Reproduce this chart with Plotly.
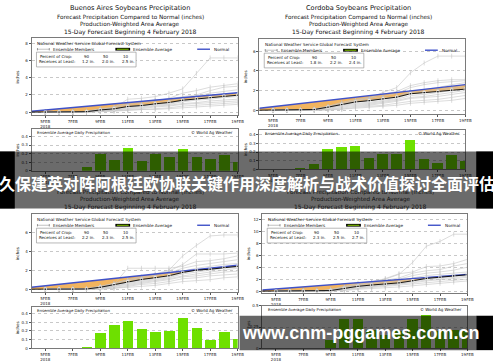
import plotly.graph_objects as go

W, H = 500, 362

# ---------------- data ----------------
line_days = list(range(4, 20))          # cumulative lines start 4 Feb
bar_days = list(range(5, 20))           # daily values 5..19 Feb
tick_days = [5, 7, 9, 11, 13, 15, 17, 19]
tick_labels = ["5FEB<br>2018", "7FEB", "9FEB", "11FEB", "13FEB", "15FEB", "17FEB", "19FEB"]

titles = ["Buenos Aires Soybeans Precipitation", "Cordoba Soybeans Precipitation", "", ""]
sub_lines = ["Forecast Precipitation Compared to Normal (inches)",
             "Production-Weighted Area Average",
             "15-Day Forecast Beginning 4 February 2018"]

pct_crop = ["90", "50", "10"]
pct_tl = ["1.2 in.", "2.0 in.", "2.5 in."]
pct_tr = ["1.8 in.", "2.2 in.", "2.4 in."]
pct_bl = ["2.2 in.", "2.3 in.", "2.5 in."]
pct_br = ["2.3 in.", "2.5 in.", "2.7 in."]

daily_tl = [0, 0, 0, 0.05, 0.20, 0.13, 0.27, 0.11, 0.20, 0.16, 0.26, 0.16, 0.14, 0.18, 0.10]
daily_tr = [0, 0, 0.01, 0.06, 0.24, 0.26, 0.27, 0.13, 0.18, 0.18, 0.34, 0.12, 0.08, 0.17, 0.10]
daily_bl = [0, 0, 0, 0.02, 0.18, 0.27, 0.32, 0.23, 0.19, 0.20, 0.35, 0.24, 0.10, 0.19, 0.11]
daily_br = [0, 0, 0, 0, 0.10, 0.35, 0.35, 0.22, 0.16, 0.20, 0.35, 0.39, 0.20, 0.22, 0.20]

avg_tl = [0, 0, 0, 0, 0.05, 0.25, 0.38, 0.65, 0.76, 0.96, 1.12, 1.38, 1.54, 1.68, 1.86, 1.96]
avg_tr = [0, 0, 0, 0.01, 0.07, 0.31, 0.57, 0.84, 0.97, 1.15, 1.33, 1.67, 1.79, 1.87, 2.04, 2.14]
avg_bl = [0, 0, 0, 0, 0.02, 0.20, 0.47, 0.79, 1.02, 1.21, 1.41, 1.76, 2.00, 2.10, 2.29, 2.40]
avg_br = [0, 0, 0, 0, 0, 0.10, 0.45, 0.80, 1.02, 1.18, 1.38, 1.73, 2.12, 2.32, 2.54, 2.74]

normal_tl = [0.10, 0.24, 0.39, 0.53, 0.67, 0.82, 0.96, 1.10, 1.25, 1.39, 1.53, 1.68, 1.82, 1.96, 2.11, 2.25]
normal_tr = [0.20, 0.36, 0.52, 0.68, 0.84, 1.00, 1.16, 1.32, 1.48, 1.64, 1.80, 1.96, 2.12, 2.28, 2.44, 2.60]
normal_bl = [0.20, 0.35, 0.51, 0.66, 0.82, 0.97, 1.13, 1.28, 1.44, 1.59, 1.75, 1.90, 2.06, 2.21, 2.37, 2.52]
normal_br = [0.20, 0.37, 0.55, 0.72, 0.89, 1.07, 1.24, 1.41, 1.59, 1.76, 1.93, 2.11, 2.28, 2.45, 2.63, 2.80]

members_tl = [
    [0, 0, 0, 0.10, 0.30, 0.50, 1.50, 1.60, 1.80, 2.20, 2.70, 4.50, 6.30, 6.30, 6.30],
    [0, 0, 0, 0.05, 0.30, 0.50, 0.90, 1.00, 1.30, 1.60, 2.20, 2.50, 2.90, 3.10, 3.30],
    [0, 0, 0, 0.10, 0.40, 0.60, 1.00, 1.20, 1.40, 1.50, 1.80, 2.00, 2.50, 2.90, 3.00],
    [0, 0, 0, 0, 0.20, 0.30, 0.60, 0.80, 1.00, 1.30, 1.60, 1.90, 2.20, 2.40, 2.60],
    [0, 0, 0, 0.05, 0.20, 0.40, 0.70, 0.80, 0.90, 1.00, 1.40, 1.60, 1.80, 2.10, 2.20],
    [0, 0, 0, 0.10, 0.30, 0.40, 0.60, 0.70, 0.90, 1.10, 1.30, 1.50, 1.70, 1.90, 2.00],
    [0, 0, 0, 0, 0.10, 0.20, 0.50, 0.60, 0.80, 0.90, 1.20, 1.40, 1.50, 1.70, 1.80],
    [0, 0, 0, 0, 0.10, 0.30, 0.40, 0.50, 0.70, 0.80, 1.00, 1.10, 1.30, 1.40, 1.50],
    [0, 0, 0, 0.05, 0.15, 0.20, 0.30, 0.40, 0.60, 0.70, 0.90, 1.00, 1.10, 1.20, 1.30],
    [0, 0, 0, 0, 0.10, 0.15, 0.20, 0.30, 0.40, 0.50, 0.70, 0.80, 0.90, 1.00, 1.10],
    [0, 0, 0, 0, 0.05, 0.10, 0.20, 0.30, 0.30, 0.40, 0.50, 0.60, 0.70, 0.80, 0.90],
]
members_tr = [
    [0, 0, 0, 0.10, 0.40, 0.70, 1.00, 1.20, 1.80, 2.30, 3.80, 4.80, 5.50, 5.50, 5.50],
    [0, 0, 0.05, 0.10, 0.40, 0.80, 1.10, 1.30, 1.60, 1.90, 2.50, 2.80, 3.00, 3.10, 3.10],
    [0, 0, 0, 0.10, 0.30, 0.60, 1.00, 1.20, 1.40, 1.70, 2.30, 2.60, 2.80, 2.90, 3.00],
    [0, 0, 0, 0.05, 0.30, 0.60, 0.90, 1.00, 1.20, 1.40, 1.90, 2.10, 2.30, 2.60, 2.80],
    [0, 0, 0, 0.10, 0.30, 0.50, 0.80, 1.00, 1.20, 1.30, 1.80, 1.90, 2.10, 2.30, 2.50],
    [0, 0, 0, 0.05, 0.20, 0.50, 0.70, 0.80, 1.00, 1.20, 1.70, 1.80, 1.90, 2.20, 2.30],
    [0, 0, 0, 0, 0.20, 0.40, 0.60, 0.70, 0.90, 1.10, 1.50, 1.60, 1.80, 2.00, 2.20],
    [0, 0, 0, 0, 0.10, 0.30, 0.50, 0.60, 0.80, 1.00, 1.30, 1.40, 1.60, 1.80, 2.00],
    [0, 0, 0, 0, 0.10, 0.20, 0.40, 0.50, 0.70, 0.90, 1.20, 1.30, 1.40, 1.60, 1.80],
    [0, 0, 0, 0, 0.05, 0.10, 0.30, 0.40, 0.50, 0.70, 0.90, 1.00, 1.10, 1.30, 1.50],
    [0, 0, 0, 0, 0, 0.10, 0.20, 0.30, 0.40, 0.50, 0.70, 0.80, 0.90, 1.00, 1.20],
]
members_bl = [
    [0, 0, 0, 0.05, 0.30, 0.60, 1.00, 1.30, 1.60, 2.00, 3.50, 4.60, 5.60, 5.70, 5.70],
    [0, 0, 0, 0.05, 0.30, 0.60, 1.00, 1.20, 1.50, 1.90, 2.60, 3.70, 3.70, 3.70, 3.80],
    [0, 0, 0, 0, 0.20, 0.50, 2.20, 2.20, 2.20, 2.20, 2.40, 2.90, 3.00, 3.20, 3.50],
    [0, 0, 0, 0.05, 0.20, 0.50, 0.90, 1.10, 1.40, 1.70, 2.20, 2.50, 2.70, 2.90, 3.10],
    [0, 0, 0, 0, 0.20, 0.40, 0.80, 1.00, 1.20, 1.50, 1.90, 2.20, 2.40, 2.60, 2.70],
    [0, 0, 0, 0, 0.10, 0.40, 0.70, 0.90, 1.10, 1.30, 1.70, 2.00, 2.10, 2.30, 2.50],
    [0, 0, 0, 0, 0.10, 0.30, 0.60, 0.80, 1.00, 1.20, 1.60, 1.80, 2.00, 2.20, 2.30],
    [0, 0, 0, 0, 0.10, 0.30, 0.50, 0.70, 0.90, 1.10, 1.40, 1.60, 1.80, 2.00, 2.20],
    [0, 0, 0, 0, 0.10, 0.20, 0.40, 0.60, 0.80, 1.00, 1.30, 1.40, 1.60, 1.80, 1.90],
    [0, 0, 0, 0, 0, 0.10, 0.30, 0.50, 0.60, 0.80, 1.10, 1.20, 1.40, 1.50, 1.60],
    [0, 0, 0, 0, 0, 0.10, 0.20, 0.30, 0.40, 0.60, 0.80, 0.90, 1.00, 1.20, 1.30],
]
members_br = [
    [0, 0, 0, 0, 0.30, 0.80, 1.30, 1.60, 2.00, 2.80, 4.80, 7.50, 8.30, 9.50, 9.50],
    [0, 0, 0, 0, 0.20, 0.70, 1.20, 1.50, 2.10, 2.90, 3.20, 4.10, 4.20, 4.60, 5.30],
    [0, 0, 0, 0, 0.20, 0.60, 1.10, 1.40, 1.80, 2.20, 3.00, 3.40, 3.60, 4.20, 4.60],
    [0, 0, 0, 0, 0.20, 0.60, 1.00, 1.30, 1.60, 2.00, 2.60, 3.00, 3.20, 3.50, 4.00],
    [0, 0, 0, 0, 0.10, 0.50, 0.90, 1.10, 1.40, 1.70, 2.20, 2.60, 2.80, 3.00, 3.20],
    [0, 0, 0, 0, 0.10, 0.40, 0.80, 1.00, 1.20, 1.50, 2.00, 2.30, 2.50, 2.70, 2.90],
    [0, 0, 0, 0, 0.10, 0.40, 0.70, 0.90, 1.10, 1.30, 1.80, 2.10, 2.30, 2.50, 2.70],
    [0, 0, 0, 0, 0.10, 0.30, 0.60, 0.80, 1.00, 1.20, 1.60, 1.90, 2.10, 2.30, 2.50],
    [0, 0, 0, 0, 0, 0.30, 0.50, 0.70, 0.90, 1.10, 1.40, 1.70, 1.90, 2.10, 2.30],
    [0, 0, 0, 0, 0, 0.20, 0.40, 0.50, 0.70, 0.90, 1.20, 1.40, 1.60, 1.80, 2.00],
    [0, 0, 0, 0, 0, 0.10, 0.30, 0.40, 0.50, 0.70, 0.90, 1.10, 1.30, 1.50, 1.70],
]

banner_text = "久保建英对阵阿根廷欧协联关键作用深度解析与战术价值探讨全面评估"
watermark_text = "www.cnm-pggames.com.cn"

# ---------------- layout (pixels) ----------------
panels = [
    dict(line=(32, 241, 36, 114), bar=(32, 241, 128, 170.5), tcx=132, ty=5,
         yr=[-0.35, 8.57], yt=[0, 2, 4, 6, 8], br=[0, 0.49], bt=[0, 0.1, 0.2, 0.3, 0.4],
         daily=daily_tl, avg=avg_tl, normal=normal_tl, members=members_tl, pct=pct_tl, title=titles[0]),
    dict(line=(263, 472, 37, 113), bar=(263, 472, 129, 169), tcx=364, ty=5,
         yr=[-0.4, 7.2], yt=[0, 2, 4, 6], br=[0, 0.46], bt=[0, 0.1, 0.2, 0.3, 0.4],
         daily=daily_tr, avg=avg_tr, normal=normal_tr, members=members_tr, pct=pct_tr, title=titles[1]),
    dict(line=(32, 241, 215, 294), bar=(32, 241, 309, 351), tcx=132, ty=183,
         yr=[-0.31, 7.86], yt=[0, 2, 4, 6], br=[0, 0.48], bt=[0, 0.1, 0.2, 0.3, 0.4],
         daily=daily_bl, avg=avg_bl, normal=normal_bl, members=members_bl, pct=pct_bl, title=titles[2]),
    dict(line=(266, 474, 215, 295), bar=(266, 474, 308, 351), tcx=366, ty=183,
         yr=[-0.33, 12.8], yt=[0, 2, 4, 6, 8, 10, 12], br=[0, 0.5], bt=[0, 0.25, 0.5],
         daily=daily_br, avg=avg_br, normal=normal_br, members=members_br, pct=pct_br, title=titles[3]),
]

FONT = "DejaVu Sans"
ORANGE = "#f2b45f"
BLUE = "#3f51c8"
GREEN = "#6ee000"


def X(px):
    return px / W


def Y(py):
    return 1 - py / H


fig = go.Figure()
annotations = []
shapes = []


def txt(x, y, s, size, anchor="left", color="#111", angle=0, family=FONT, bold=False):
    annotations.append(dict(
        x=X(x), y=Y(y), xref="paper", yref="paper", text=("<b>%s</b>" % s) if bold else s,
        showarrow=False, xanchor=anchor, yanchor="middle", textangle=angle, borderpad=0,
        font=dict(family=family, size=size, color=color)))


def rect(x0, y0, x1, y1, fill, line_color=None, lw=0, layer="above"):
    shapes.append(dict(type="rect", xref="paper", yref="paper",
                       x0=X(x0), x1=X(x1), y0=Y(y1), y1=Y(y0), fillcolor=fill,
                       line=dict(color=line_color or fill, width=lw), layer=layer))


def seg(x0, y0, x1, y1, color, lw):
    shapes.append(dict(type="line", xref="paper", yref="paper",
                       x0=X(x0), x1=X(x1), y0=Y(y0), y1=Y(y1),
                       line=dict(color=color, width=lw), layer="above"))


axis_common = dict(showline=True, mirror=True, linecolor="#7a7a7a", linewidth=0.8,
                   ticks="outside", ticklen=2, tickwidth=0.6, tickcolor="#555",
                   zeroline=False, tickfont=dict(family=FONT, size=4, color="#222"))

for i, p in enumerate(panels):
    la, ba = 2 * i + 1, 2 * i + 2
    xl, yl = ("x" if la == 1 else "x%d" % la), ("y" if la == 1 else "y%d" % la)
    xb, yb = "x%d" % ba, "y%d" % ba

    # fill between normal and ensemble average
    fig.add_trace(go.Scatter(x=line_days, y=p["normal"], mode="lines", line=dict(width=0),
                             xaxis=xl, yaxis=yl, hoverinfo="skip"))
    fig.add_trace(go.Scatter(x=line_days, y=p["avg"], mode="lines", line=dict(width=0),
                             fill="tonexty", fillcolor=ORANGE, xaxis=xl, yaxis=yl, hoverinfo="skip"))
    for m in p["members"]:
        fig.add_trace(go.Scatter(x=bar_days, y=m, mode="lines+markers",
                                 line=dict(color="#c4c4c4", width=0.6),
                                 marker=dict(symbol="line-ns-open", size=3.5,
                                             line=dict(width=0.6, color="#707070")),
                                 xaxis=xl, yaxis=yl))
    fig.add_trace(go.Scatter(x=line_days, y=p["normal"], mode="lines",
                             line=dict(color=BLUE, width=1.4), xaxis=xl, yaxis=yl))
    fig.add_trace(go.Scatter(x=line_days, y=p["avg"], mode="lines+markers",
                             line=dict(color="#000", width=0.9),
                             marker=dict(symbol="square", color="#000",
                                         size=[0] + [2.4] * len(bar_days)),
                             xaxis=xl, yaxis=yl))
    fig.add_trace(go.Bar(x=bar_days, y=p["daily"], marker=dict(color=GREEN, line=dict(width=0)),
                         width=0.76, xaxis=xb, yaxis=yb))

    lx0, lx1, ly0, ly1 = p["line"]
    bx0, bx1, by0, by1 = p["bar"]
    fig.layout["xaxis%d" % la] = dict(axis_common, domain=[X(lx0), X(lx1)], range=[4, 19], anchor=yl,
                                     tickvals=tick_days, ticktext=tick_labels, showgrid=False)
    fig.layout["yaxis%d" % la] = dict(axis_common, domain=[Y(ly1), Y(ly0)], range=p["yr"], anchor=xl,
                                     tickvals=p["yt"], showgrid=True, gridcolor="#c8c8c8",
                                     griddash="dot", gridwidth=0.6)
    fig.layout["xaxis%d" % ba] = dict(axis_common, domain=[X(bx0), X(bx1)], range=[4, 19], anchor=yb,
                                     tickvals=tick_days, ticktext=tick_labels, showgrid=False)
    fig.layout["yaxis%d" % ba] = dict(axis_common, domain=[Y(by1), Y(by0)], range=p["br"], anchor=xb,
                                     tickvals=p["bt"], showgrid=True, gridcolor="#c8c8c8",
                                     griddash="dot", gridwidth=0.6)

    # titles
    if p["title"]:
        txt(p["tcx"], p["ty"], p["title"], 6.6, "center")
    txt(p["tcx"], p["ty"] + 9.5, sub_lines[0], 5.7, "center")
    txt(p["tcx"], p["ty"] + 17, sub_lines[1], 5.7, "center")
    txt(p["tcx"], p["ty"] + 24.5, sub_lines[2], 6.0, "center")

    # y titles
    txt(lx0 - 14, (ly0 + ly1) / 2, "inches", 4, "center", angle=-90)
    txt(bx0 - 14, (by0 + by1) / 2, "inches", 4, "center", angle=-90)

    # legend inside line box
    txt(lx0 + 5, ly0 + 5.5, "National Weather Service Global Forecast System", 4.2)
    seg(lx0 + 6, ly0 + 11, lx0 + 18, ly0 + 11, "#999", 0.6)
    seg(lx0 + 6, ly0 + 9.8, lx0 + 6, ly0 + 12.2, "#555", 0.6)
    seg(lx0 + 18, ly0 + 9.8, lx0 + 18, ly0 + 12.2, "#555", 0.6)
    txt(lx0 + 21, ly0 + 11, "Ensemble Members", 4.2)
    rect(lx0 + 85, ly0 + 9.6, lx0 + 100, ly0 + 12.4, "#000")
    seg(lx0 + 86.5, ly0 + 11, lx0 + 98.5, ly0 + 11, "#8fd400", 1.0)
    txt(lx0 + 102, ly0 + 11, "Ensemble Average", 4.2)
    seg(lx0 + 168, ly0 + 11, lx0 + 181, ly0 + 11, BLUE, 1.4)
    txt(lx0 + 184, ly0 + 11, "Normal", 4.2)
    rect(lx0 + 5, ly0 + 14, lx0 + 106, ly0 + 29, "#fff", "#888", 0.6)
    txt(lx0 + 8, ly0 + 18.5, "Percent of Crop:", 4.0)
    txt(lx0 + 6.5, ly0 + 23.5, "Receives at Least:", 4.0)
    for k in range(3):
        txt(lx0 + 56 + 20 * k, ly0 + 18.5, pct_crop[k], 4.0, "center")
        txt(lx0 + 58 + 20 * k, ly0 + 23.5, p["pct"][k], 4.0, "center")

    # bar box labels
    txt(bx0 + 5, by0 + 4, "Ensemble Average Daily Precipitation", 3.9)
    txt(bx1 - 4, by0 + 4, "© World Ag Weather", 4.0, "right")

# overlays (banner + watermark)
rect(0, 151, 500, 209, "rgba(0,0,0,0.58)")
rect(0, 151, 15, 209, "#000")
rect(483, 151, 500, 209, "#000")
txt(250, 183, banner_text, 16.0, "center", color="#fff", family="Noto Sans CJK SC", bold=True)

rect(243, 318, 483, 353, "rgba(0,0,0,0.6)")
rect(483, 318, 500, 353, "#000")
txt(366, 335.5, watermark_text, 18, "center", color="#fff", family="Liberation Sans", bold=True)

fig.update_layout(width=W, height=H, margin=dict(l=0, r=0, t=0, b=0),
                  paper_bgcolor="#fff", plot_bgcolor="#fff", showlegend=False,
                  bargap=0, annotations=annotations, shapes=shapes)

fig.write_html("out.html")
